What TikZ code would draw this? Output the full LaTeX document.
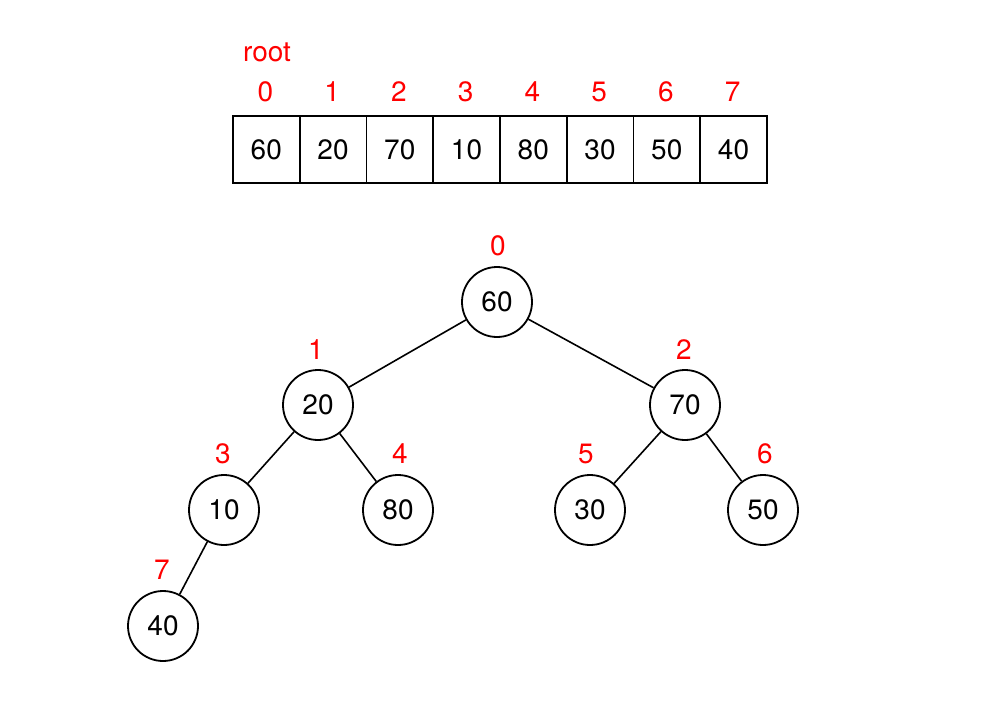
\documentclass[tikz,border=0pt]{standalone}
\usepackage{fontspec}
\setmainfont{TeX Gyre Heros}
\begin{document}
\begin{tikzpicture}[x=1pt,y=-1pt,
  cell/.style={draw,line width=1.8pt,minimum width=66.75pt,minimum height=67pt,inner sep=0pt,anchor=north west,font=\fontsize{28}{30}\selectfont},
  tnode/.style={draw,circle,line width=1.8pt,minimum size=70pt,inner sep=0pt,font=\fontsize{28}{30}\selectfont},
  idx/.style={text=red,font=\fontsize{28}{30}\selectfont,inner sep=0pt},
  edge/.style={line width=1.6pt}]
\useasboundingbox (0,0) rectangle (993,713);
\node[idx] (root) at (267,52) {root};
\foreach \v [count=\i from 0] in {60,20,70,10,80,30,50,40}{
  \node[cell] (c\i) at ({232+66.75*\i},115) {\v};
  \node[idx] (i\i) at ({265.4+66.75*\i},92) {\i};
}
\node[tnode] (n0) at (497,302) {60};
\node[tnode] (n1) at (318,405) {20};
\node[tnode] (n2) at (685,405) {70};
\node[tnode] (n3) at (224,510) {10};
\node[tnode] (n4) at (398,510) {80};
\node[tnode] (n5) at (590,510) {30};
\node[tnode] (n6) at (763,510) {50};
\node[tnode] (n7) at (163,626) {40};
\node[idx] (l0) at (498,246) {0};
\node[idx] (l1) at (316,350) {1};
\node[idx] (l2) at (684,350) {2};
\node[idx] (l3) at (223,454) {3};
\node[idx] (l4) at (400,454) {4};
\node[idx] (l5) at (586,454) {5};
\node[idx] (l6) at (765,454) {6};
\node[idx] (l7) at (162,570) {7};
\draw[edge] (n0) -- (n1);
\draw[edge] (n0) -- (n2);
\draw[edge] (n1) -- (n3);
\draw[edge] (n1) -- (n4);
\draw[edge] (n2) -- (n5);
\draw[edge] (n2) -- (n6);
\draw[edge] (n3) -- (n7);
\end{tikzpicture}
\end{document}
